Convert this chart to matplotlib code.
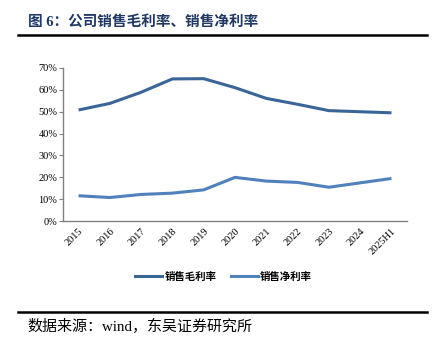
import matplotlib.pyplot as plt
from matplotlib.lines import Line2D
from matplotlib.ticker import FuncFormatter

plt.rcParams['font.family'] = ['Liberation Serif', 'Noto Sans CJK SC', 'DejaVu Sans']

# data
years = ['2015', '2016', '2017', '2018', '2019', '2020', '2021', '2022', '2023', '2024', '2025H1']
gross_margin = [50.8, 53.8, 58.9, 65.0, 65.1, 61.0, 56.1, 53.4, 50.5, 50.0, 49.5]
net_margin = [11.6, 10.8, 12.2, 12.8, 14.3, 20.0, 18.3, 17.7, 15.5, 17.5, 19.5]

fig = plt.figure(figsize=(4.43, 3.45), dpi=100)
ax = fig.add_axes([0.142, 0.359, 0.777, 0.444])

x = range(len(years))
ax.plot(x, gross_margin, color='#3a6598', lw=2.2, solid_capstyle='butt')
ax.plot(x, net_margin, color='#4f81bd', lw=2.2, solid_capstyle='butt')

ax.set_xlim(-0.5, len(years) - 0.5)
ax.set_ylim(0, 70)
ax.set_yticks(range(0, 71, 10))
ax.yaxis.set_major_formatter(FuncFormatter(lambda v, p: f'{v:.0f}%'))
ax.set_xticks(list(x))
ax.set_xticklabels(years, rotation=45, ha='right', va='top', rotation_mode='anchor')
ax.tick_params(axis='x', length=0, labelsize=7.5, pad=4)
ax.tick_params(axis='y', length=3, labelsize=7.5, color='#808080', pad=1)

for s in ['top', 'right']:
    ax.spines[s].set_visible(False)
for s in ['left', 'bottom']:
    ax.spines[s].set_color('#808080')
    ax.spines[s].set_linewidth(1.0)

handles = [Line2D([], [], color='#3a6598', lw=2.2),
           Line2D([], [], color='#4f81bd', lw=2.2)]
fig.legend(handles, ['销售毛利率', '销售净利率'], loc='center', bbox_to_anchor=(0.505, 0.197),
           ncol=2, frameon=False, handlelength=2.6, handletextpad=0.2, columnspacing=1.4,
           prop={'family': 'Noto Sans CJK SC', 'size': 7.5, 'weight': 'bold'})

fig.text(0.063, 0.937, '图 6：公司销售毛利率、销售净利率', color='#1f3864', fontsize=10.5,
         fontweight='bold', family=['Liberation Serif', 'Noto Sans CJK SC'], va='center')
fig.add_artist(Line2D([0.041, 0.964], [0.898, 0.898], color='black', lw=1.8))
fig.add_artist(Line2D([0.041, 0.964], [0.096, 0.096], color='black', lw=1.8))
fig.text(0.063, 0.053, '数据来源：wind，东吴证券研究所', color='black', fontsize=10.8,
         family=['Liberation Serif', 'Noto Sans CJK SC'], va='center')

fig.savefig('out.png', dpi=100)
